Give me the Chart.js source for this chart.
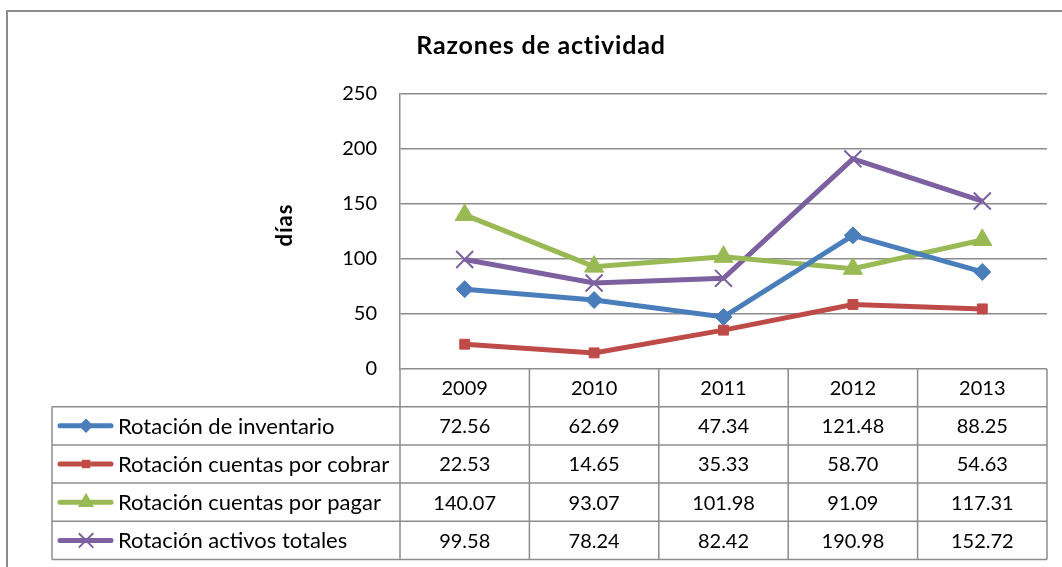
<!DOCTYPE html>
<html>
<head>
<meta charset="utf-8">
<script src="https://cdn.jsdelivr.net/npm/chart.js@4/dist/chart.umd.min.js"></script>
<style>
  html, body { margin: 0; padding: 0; background: #ffffff; }
  #wrap { width: 1062px; height: 567px; position: relative; }
</style>
</head>
<body>
<div id="wrap"><canvas id="c" width="1062" height="567"></canvas></div>
<script>
// ---- data ----
const years = ['2009', '2010', '2011', '2012', '2013'];
const seriesNames = ['Rotación de inventario', 'Rotación cuentas por cobrar', 'Rotación cuentas por pagar', 'Rotación activos totales'];
const inventario = [72.56, 62.69, 47.34, 121.48, 88.25];
const cuentasCobrar = [22.53, 14.65, 35.33, 58.70, 54.63];
const cuentasPagar = [140.07, 93.07, 101.98, 91.09, 117.31];
const activosTotales = [99.58, 78.24, 82.42, 190.98, 152.72];
const yTicks = [0, 50, 100, 150, 200, 250];
const chartTitle = 'Razones de actividad';
const yTitle = 'días';

// ---- styling ----
const FONT = 'Lato, "Open Sans", sans-serif';
const colors = ['#4A7EBB', '#BE4B48', '#98B954', '#7D60A0'];
const markers = ['rectRot', 'rect', 'triangle', 'crossRot'];
const markerRadius = [8.5, 7, 11, 12];
const GRID = '#8c8c8c';

const seriesValues = [inventario, cuentasCobrar, cuentasPagar, activosTotales];

const datasets = seriesValues.map((vals, i) => ({
  label: seriesNames[i],
  data: vals,
  borderColor: colors[i],
  backgroundColor: colors[i],
  borderWidth: 5,
  pointStyle: markers[i],
  pointRadius: markerRadius[i],
  pointHoverRadius: markerRadius[i],
  pointBackgroundColor: colors[i],
  pointBorderColor: colors[i],
  pointBorderWidth: markers[i] === 'crossRot' ? 2 : 1,
  tension: 0,
  clip: false
}));

function drawMarker(ctx, style, x, y, r, color) {
  ctx.save();
  ctx.fillStyle = color;
  ctx.strokeStyle = color;
  ctx.beginPath();
  if (style === 'rectRot') {
    ctx.moveTo(x - r, y); ctx.lineTo(x, y - r); ctx.lineTo(x + r, y); ctx.lineTo(x, y + r); ctx.closePath(); ctx.fill();
  } else if (style === 'rect') {
    const s = r * Math.SQRT1_2;
    ctx.rect(x - s, y - s, 2 * s, 2 * s); ctx.fill();
  } else if (style === 'triangle') {
    ctx.moveTo(x, y - r); ctx.lineTo(x + r * 0.866, y + r / 2); ctx.lineTo(x - r * 0.866, y + r / 2); ctx.closePath(); ctx.fill();
  } else if (style === 'crossRot') {
    const d = r * Math.SQRT1_2;
    ctx.lineWidth = 2;
    ctx.moveTo(x - d, y - d); ctx.lineTo(x + d, y + d);
    ctx.moveTo(x + d, y - d); ctx.lineTo(x - d, y + d);
    ctx.stroke();
  }
  ctx.restore();
}

const tablePlugin = {
  id: 'tablePlugin',
  beforeDraw(chart) {
    const ctx = chart.ctx;
    ctx.save();
    ctx.fillStyle = '#ffffff';
    ctx.fillRect(0, 0, chart.width, chart.height);
    // outer chart border
    ctx.strokeStyle = '#8c8c8c';
    ctx.lineWidth = 2;
    ctx.strokeRect(7, 11, chart.width + 20, chart.height + 20);
    ctx.restore();
  },
  afterDraw(chart) {
    const ctx = chart.ctx;
    const area = chart.chartArea;
    const xs = chart.scales.x;
    const n = years.length;
    const colW = (area.right - area.left) / n;
    const headerTop = area.bottom;
    const headerH = 37.7;
    const rowH = 38.2;
    const legendLeft = 52;
    const tableTop = headerTop + headerH;
    const tableBottom = tableTop + rowH * seriesNames.length;

    ctx.save();
    ctx.strokeStyle = GRID;
    ctx.lineWidth = 1.5;
    for (let i = 0; i <= n; i++) {
      const x = area.left + i * colW;
      ctx.beginPath(); ctx.moveTo(x, headerTop); ctx.lineTo(x, tableBottom); ctx.stroke();
    }
    ctx.beginPath(); ctx.moveTo(legendLeft, tableTop); ctx.lineTo(legendLeft, tableBottom); ctx.stroke();
    for (let r = 0; r <= seriesNames.length; r++) {
      const y = tableTop + r * rowH;
      ctx.beginPath(); ctx.moveTo(legendLeft, y); ctx.lineTo(area.right, y); ctx.stroke();
    }

    // header years
    ctx.fillStyle = '#000000';
    ctx.font = '20px ' + FONT;
    ctx.textAlign = 'center';
    ctx.textBaseline = 'middle';
    years.forEach((yr, i) => {
      ctx.fillText(yr, xs.getPixelForValue(i), headerTop + headerH / 2 + 1);
    });

    // rows
    seriesValues.forEach((vals, r) => {
      const cy = tableTop + r * rowH + rowH / 2 + 1;
      ctx.save();
      ctx.strokeStyle = colors[r];
      ctx.lineWidth = 5;
      ctx.lineCap = 'round';
      ctx.beginPath(); ctx.moveTo(60, cy - 1); ctx.lineTo(111, cy - 1); ctx.stroke();
      ctx.restore();
      drawMarker(ctx, markers[r], 86, cy - 1, markerRadius[r] * 0.85, colors[r]);
      ctx.fillStyle = '#000000';
      ctx.textAlign = 'left';
      ctx.font = '22px ' + FONT;
      ctx.fillText(seriesNames[r], 118, cy);
      ctx.font = '20px ' + FONT;
      ctx.textAlign = 'center';
      vals.forEach((v, i) => {
        ctx.fillText(v.toFixed(2), xs.getPixelForValue(i), cy);
      });
    });

    // chart title
    ctx.save();
    ctx.font = 'bold 25px ' + FONT;
    ctx.letterSpacing = '0.8px';
    ctx.textAlign = 'center';
    ctx.textBaseline = 'alphabetic';
    ctx.fillText(chartTitle, 541, 54);
    ctx.restore();

    // y axis title
    ctx.save();
    ctx.translate(292, 225);
    ctx.rotate(-Math.PI / 2);
    ctx.font = 'bold 22px ' + FONT;
    ctx.letterSpacing = '1px';
    ctx.textAlign = 'center';
    ctx.textBaseline = 'alphabetic';
    ctx.fillText(yTitle, 0, 0);
    ctx.restore();
    ctx.restore();
  }
};

new Chart(document.getElementById('c'), {
  type: 'line',
  data: { labels: years, datasets: datasets },
  options: {
    responsive: false,
    animation: false,
    events: [],
    layout: { padding: { left: 0, right: 15, top: 94, bottom: 198 } },
    plugins: { legend: { display: false }, title: { display: false }, tooltip: { enabled: false } },
    scales: {
      x: { type: 'category', display: false, offset: true },
      y: {
        min: 0, max: 250,
        afterBuildTicks(scale) { scale.ticks = yTicks.map(v => ({ value: v })); },
        afterFit(scale) { scale.width = 400; },
        ticks: { color: '#000000', padding: 23, font: { family: FONT, size: 20 } },
        grid: { color: GRID, lineWidth: 1.5, drawTicks: false },
        border: { display: true, color: GRID, width: 1.5 }
      }
    }
  },
  plugins: [tablePlugin]
});
</script>
</body>
</html>
